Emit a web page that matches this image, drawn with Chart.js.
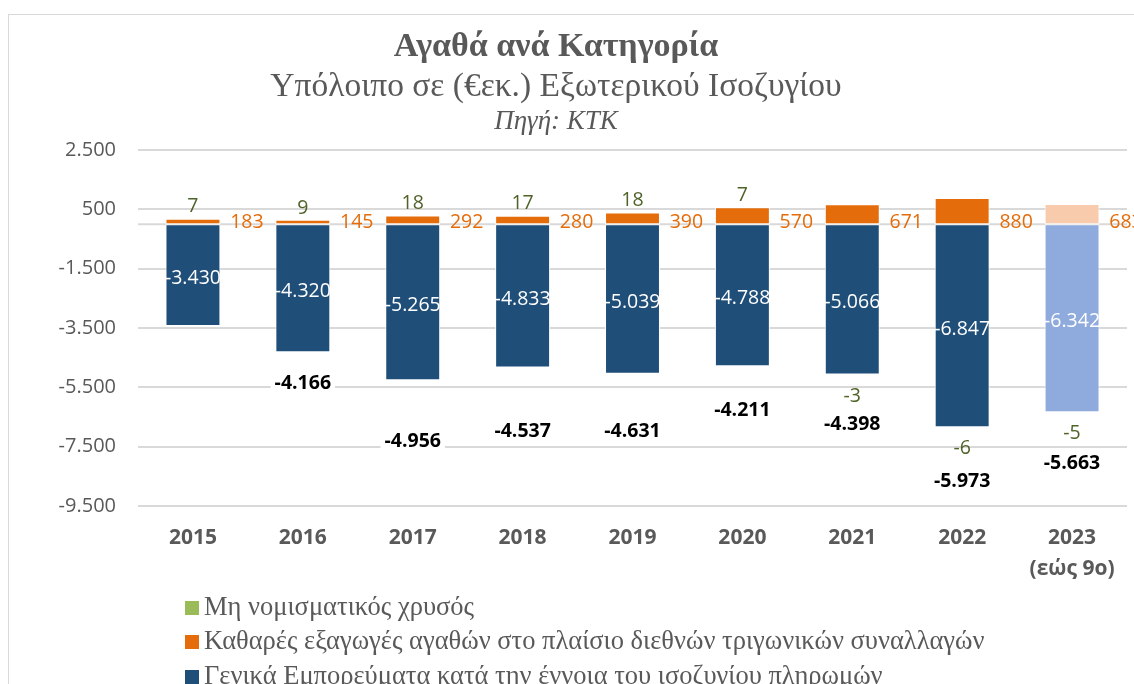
<!DOCTYPE html>
<html>
<head>
<meta charset="utf-8">
<script src="https://cdn.jsdelivr.net/npm/chart.js@4.4.1/dist/chart.umd.min.js"></script>
<style>
html,body{margin:0;padding:0;background:#fff;overflow:hidden}
#wrap{position:relative;width:1134px;height:684px;overflow:hidden}
#frame{position:absolute;left:8px;top:14px;width:1300px;height:900px;border:1.5px solid #d9d9d9;box-sizing:border-box}
#c{position:absolute;left:0;top:0}
</style>
</head>
<body>
<div id="wrap"><div id="frame"></div><canvas id="c" width="1134" height="684"></canvas></div>
<script>
// ---------- data ----------
const categories = [['2015'],['2016'],['2017'],['2018'],['2019'],['2020'],['2021'],['2022'],['2023','(εώς 9ο)']];
const seriesNames = [
  'Μη νομισματικός χρυσός',
  'Καθαρές εξαγωγές αγαθών στο πλαίσιο διεθνών τριγωνικών συναλλαγών',
  'Γενικά Εμπορεύματα κατά την έννοια του ισοζυγίου πληρωμών'
];
const goldValues = [7, 9, 18, 17, 18, 7, -3, -6, -5];
const triangularValues = [183, 145, 292, 280, 390, 570, 671, 880, 683];
const generalValues = [-3430, -4320, -5265, -4833, -5039, -4788, -5066, -6847, -6342];
const totalValues = [null, -4166, -4956, -4537, -4631, -4211, -4398, -5973, -5663];
const yTicks = [2500, 500, -1500, -3500, -5500, -7500, -9500];

const titleText = 'Αγαθά ανά Κατηγορία';
const subtitleText = 'Υπόλοιπο σε (€εκ.) Εξωτερικού Ισοζυγίου';
const sourceText = 'Πηγή: ΚΤΚ';

// ---------- styles ----------
const GREEN = '#9bbb59', ORANGE = '#e46c0a', BLUE = '#1f4e79';
const ORANGE_LIGHT = '#f8cbad', BLUE_LIGHT = '#8faadc';
const lastIdx = categories.length - 1;
const colorArr = (base, light) => categories.map((c, i) => i === lastIdx ? light : base);
const GREY = '#595959';
const SANS = '"Open Sans", "Liberation Sans", sans-serif';
const SERIF = '"Liberation Serif", "DejaVu Serif", serif';
const LABEL_PX = 19.5;
const totalOffsets = [0, 30, 60, 62, 56, 43, 48, 53, 50];

const fmt = v => {
  const s = Math.abs(v).toString().replace(/\B(?=(\d{3})+(?!\d))/g, '.');
  return (v < 0 ? '-' : '') + s;
};

// draw number text with digits vertically centred at y
const numText = (ctx, t, x, y) => ctx.fillText(t, x, y + LABEL_PX * 0.357);

const decor = {
  id: 'decor',
  beforeDatasetsDraw(chart) {
    const {ctx, chartArea, scales} = chart;
    const y0 = scales.y.getPixelForValue(0);
    ctx.save();
    ctx.strokeStyle = '#d9d9d9';
    ctx.lineWidth = 2;
    ctx.beginPath();
    ctx.moveTo(chartArea.left, y0);
    ctx.lineTo(chartArea.right, y0);
    ctx.stroke();
    ctx.restore();
  },
  afterDatasetsDraw(chart) {
    const {ctx, scales} = chart;
    const y0 = scales.y.getPixelForValue(0);
    const half = (scales.x.getPixelForValue(1) - scales.x.getPixelForValue(0)) / 2;
    const metaO = chart.getDatasetMeta(0), metaB = chart.getDatasetMeta(1), metaG = chart.getDatasetMeta(2);
    ctx.save();
    ctx.textAlign = 'center';
    ctx.textBaseline = 'alphabetic';
    // blue labels inside
    ctx.font = LABEL_PX + 'px ' + SANS;
    ctx.fillStyle = '#ffffff';
    metaB.data.forEach((b, i) => {
      numText(ctx, fmt(generalValues[i]), b.x, (b.y + b.base) / 2 + 2);
    });
    // orange labels in gap to the right
    ctx.fillStyle = ORANGE;
    metaO.data.forEach((b, i) => {
      numText(ctx, fmt(triangularValues[i]), b.x + half - 1, y0 - 3);
    });
    // green labels
    ctx.fillStyle = '#4f6228';
    metaG.data.forEach((b, i) => {
      const v = goldValues[i];
      if (v >= 0) {
        numText(ctx, fmt(v), b.x, Math.min(b.y, b.base) - 13);
      } else {
        numText(ctx, fmt(v), b.x, Math.max(b.y, b.base) + 20);
      }
    });
    // totals
    ctx.font = 'bold ' + LABEL_PX + 'px ' + SANS;
    metaB.data.forEach((b, i) => {
      const v = totalValues[i];
      if (v === null) return;
      const g = metaG.data[i];
      const bottom = Math.max(b.y, b.base, g.y, g.base);
      const y = bottom + totalOffsets[i];
      const t = fmt(v);
      const w = ctx.measureText(t).width + 8;
      ctx.fillStyle = '#ffffff';
      ctx.fillRect(b.x - w / 2, y - 13, w, 26);
      ctx.fillStyle = '#000000';
      numText(ctx, t, b.x, y);
    });
    ctx.restore();
  },
  afterDraw(chart) {
    const {ctx} = chart;
    ctx.save();
    ctx.textAlign = 'center';
    ctx.textBaseline = 'middle';
    ctx.fillStyle = GREY;
    const cx = 556;
    ctx.font = 'bold 34px ' + SERIF;
    ctx.fillText(titleText, cx, 47);
    ctx.font = '33.5px ' + SERIF;
    ctx.fillText(subtitleText, cx, 87);
    ctx.font = 'italic 27px ' + SERIF;
    ctx.fillText(sourceText, cx, 122);
    // legend
    const cols = [GREEN, ORANGE, BLUE];
    const ys = [608, 642, 677];
    ctx.textAlign = 'left';
    ctx.font = '26.5px ' + SERIF;
    seriesNames.forEach((n, i) => {
      ctx.fillStyle = cols[i];
      ctx.fillRect(185, ys[i] - 7, 14, 14);
      ctx.fillStyle = GREY;
      ctx.fillText(n, 204, ys[i]);
    });
    ctx.restore();
  }
};

new Chart(document.getElementById('c'), {
  type: 'bar',
  data: {
    labels: categories,
    datasets: [
      { label: seriesNames[1], data: triangularValues, backgroundColor: colorArr(ORANGE, ORANGE_LIGHT) },
      { label: seriesNames[2], data: generalValues, backgroundColor: colorArr(BLUE, BLUE_LIGHT) },
      { label: seriesNames[0], data: goldValues, backgroundColor: GREEN }
    ]
  },
  options: {
    responsive: false,
    animation: false,
    devicePixelRatio: 1,
    layout: { padding: { top: 150, left: 0, right: 7, bottom: 0 } },
    datasets: { bar: { categoryPercentage: 1, barPercentage: 0.5, borderWidth: 1, borderColor: '#ffffff', borderSkipped: false } },
    plugins: { legend: { display: false }, tooltip: { enabled: false }, title: { display: false } },
    scales: {
      x: {
        stacked: true,
        grid: { display: false },
        border: { display: false },
        ticks: { color: GREY, font: { family: SANS, size: 21, weight: 'bold', lineHeight: 1.45 }, padding: 9, maxRotation: 0 },
        afterFit(s) { s.height = 178; }
      },
      y: {
        stacked: true,
        min: -9500, max: 2500,
        afterBuildTicks(s) { s.ticks = yTicks.map(v => ({ value: v })); },
        grid: { color: '#d9d9d9', lineWidth: 2, drawTicks: false },
        border: { display: false },
        ticks: { color: GREY, font: { family: SANS, size: 20 }, padding: 22, callback: v => fmt(v) },
        afterFit(s) { s.width = 138; }
      }
    }
  },
  plugins: [decor]
});
</script>
</body>
</html>
